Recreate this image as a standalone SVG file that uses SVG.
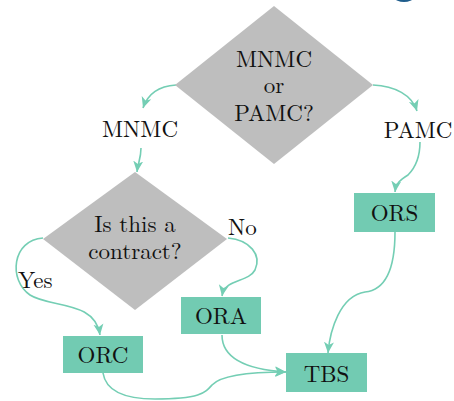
<svg xmlns="http://www.w3.org/2000/svg" width="454" height="401" viewBox="0 0 454 401">
<style>
text{font-family:"Latin Modern Roman","CMU Serif","Liberation Serif","Noto Serif","Times New Roman",Tinos,Times,"DejaVu Serif",FreeSerif,Georgia,serif;font-size:23px;fill:#111;text-anchor:middle}
.dia{fill:#bebebe}
.box{fill:#72cbb2}
.con path{fill:none;stroke:#74ceb4;stroke-width:1.6;marker-end:url(#ah)}
</style>
<defs>
<marker id="ah" markerUnits="userSpaceOnUse" markerWidth="12" markerHeight="12" viewBox="0 0 12 12" refX="11" refY="6" orient="auto">
<path d="M0,1 L11,6 L0,11 L3,6 z" fill="#74ceb4"/>
</marker>
</defs>
<rect width="454" height="401" fill="#fff"/>
<ellipse cx="404" cy="-2" rx="9" ry="4" fill="#1f5d8c"/>
<g class="con">
<path d="M176,85 C160,86 148,93 143,108"/>
<path d="M373,85 C395,86 412,95 417,111"/>
<path d="M141,148 C141,158 138,163 137,172"/>
<path d="M420,142 C420,158 415,168 408,175 C400,180 396,183 395,192"/>
<path d="M43,238 C12,240 8,280 30,295 C50,308 95,300 100,335"/>
<path d="M228,238 C250,240 262,255 255,270 C248,283 225,278 222,296"/>
<path d="M222,335 C222,362 255,370 286,372"/>
<path d="M103,373 C106,392 125,399 155,399 C200,399 205,393 212,385 C222,374 255,372 286,372"/>
<path d="M395,232 C395,270 385,290 365,292 C340,296 330,330 328,353"/>
</g>
<g id="q1">
<polygon class="dia" points="274,6 373,85 274,164 175,85"/>
<text x="274" y="67">MNMC</text>
<text x="274" y="93">or</text>
<text x="274" y="121">PAMC?</text>
</g>
<g id="mnmc"><text x="140" y="137">MNMC</text></g>
<g id="pamc"><text x="418" y="138">PAMC</text></g>
<g id="q2">
<polygon class="dia" points="135,172 227,239 135,310 43,239"/>
<text x="135" y="232">Is this a</text>
<text x="135" y="259">contract?</text>
</g>
<g id="yes"><text x="18" y="288" style="text-anchor:start">Yes</text></g>
<g id="no"><text x="228" y="235" style="text-anchor:start">No</text></g>
<g id="ors"><rect class="box" x="354" y="193" width="81" height="39"/><text x="394.5" y="221">ORS</text></g>
<g id="ora"><rect class="box" x="181" y="297" width="80" height="37"/><text x="221" y="324">ORA</text></g>
<g id="orc"><rect class="box" x="63" y="336" width="80" height="37"/><text x="103" y="363">ORC</text></g>
<g id="tbs"><rect class="box" x="286" y="353" width="81" height="39"/><text x="326.5" y="382">TBS</text></g>
</svg>
